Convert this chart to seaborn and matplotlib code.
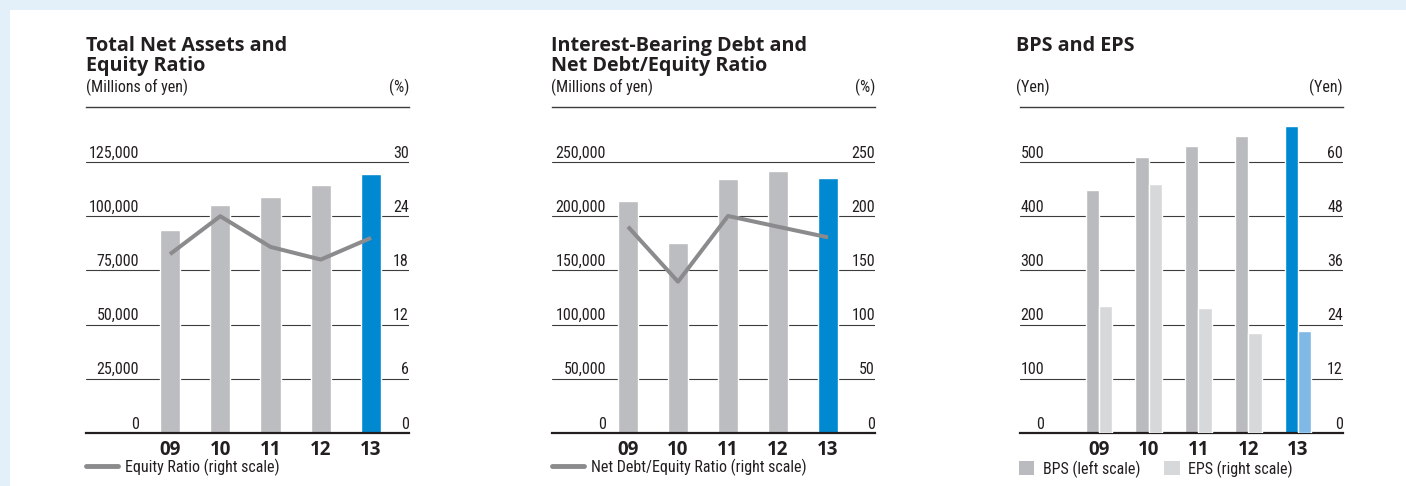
import numpy as np
import pandas as pd
import matplotlib
matplotlib.use("Agg")
import matplotlib.pyplot as plt
import matplotlib.transforms as mtransforms
from matplotlib.lines import Line2D
from matplotlib.patches import Patch, Rectangle
import seaborn as sns

# ---- data -------------------------------------------------------------
years = ["09", "10", "11", "12", "13"]

net_assets = [93600, 105200, 109000, 114400, 119500]        # millions of yen
equity_ratio = [19.8, 24.0, 20.6, 19.2, 21.6]               # %

debt = [214000, 175000, 234000, 242000, 235500]             # millions of yen
net_de_ratio = [190.3, 139.6, 200.2, 190.3, 180.5]          # %

bps = [448, 510, 530, 548, 566]                             # yen
eps = [28.2, 55.2, 27.7, 22.2, 22.6]                        # yen

ticks_assets = [0, 25000, 50000, 75000, 100000, 125000]
ticks_equity = [0, 6, 12, 18, 24, 30]
ticks_debt = [0, 50000, 100000, 150000, 200000, 250000]
ticks_de = [0, 50, 100, 150, 200, 250]
ticks_bps = [0, 100, 200, 300, 400, 500]
ticks_eps = [0, 12, 24, 36, 48, 60]

# ---- style ------------------------------------------------------------
BG = "#e3eff9"
TXT = "#231f20"
GRID = "#3c3c3c"
GRAY = "#bcbdc0"
BLUE = "#0089d1"
LINE = "#8b8b8d"
BPS_C = "#babbbe"
EPS_C = "#d7d8da"
EPS_HI = "#80b9e5"

sns.set_theme(style="white")
plt.rcParams["font.family"] = ["Roboto Condensed", "Roboto", "DejaVu Sans"]
plt.rcParams["font.stretch"] = "condensed"
plt.rcParams["text.color"] = TXT

W, H = 1406, 486
fig = plt.figure(figsize=(W / 100, H / 100), dpi=100, facecolor=BG)
fig.patches.append(Rectangle((10 / W, 0), 1 - 10 / W, 1 - 10 / H,
                             transform=fig.transFigure, facecolor="white",
                             edgecolor="none", zorder=-10))

AX_TOP, AX_BOT, GRID_TOP = 107, 433, 162
AX_W = 323
SCALE = (AX_BOT - AX_TOP) / (AX_BOT - GRID_TOP)

TITLE_FONT = "Open Sans"
LABEL_SIZE = 11.5


def fx(px):
    return px / W


def fy(py):
    return 1 - py / H


def make_panel(left_px, lticks, rticks, lfmt, lab_x):
    ax = fig.add_axes([fx(left_px), fy(AX_BOT), AX_W / W, (AX_BOT - AX_TOP) / H])
    ax.set_facecolor("none")
    ax.set_ylim(0, lticks[-1] * SCALE)
    ax.set_yticks(lticks)
    ax.yaxis.grid(True, color=GRID, lw=0.8)
    ax.set_axisbelow(True)
    ax.tick_params(axis="y", length=0, labelleft=False, labelright=False)
    for s in ("left", "right"):
        ax.spines[s].set_visible(False)
    ax.spines["top"].set_color(GRID)
    ax.spines["top"].set_linewidth(1.0)
    ax.spines["bottom"].set_color(TXT)
    ax.spines["bottom"].set_linewidth(1.6)

    ax2 = ax.twinx()
    ax2.set_ylim(0, rticks[-1] * SCALE)
    ax2.set_yticks([])
    for s in ax2.spines.values():
        s.set_visible(False)

    trans = mtransforms.offset_copy(ax.get_yaxis_transform(), fig=fig, y=4.5, units="dots")
    for lv, rv in zip(lticks, rticks):
        ax.text(lab_x, lv, lfmt(lv), transform=trans, ha="right", va="baseline",
                fontsize=LABEL_SIZE, color=TXT, zorder=5)
        ax.text(1.0, lv, f"{rv:g}", transform=trans, ha="right", va="baseline",
                fontsize=LABEL_SIZE, color=TXT, zorder=5)
    return ax, ax2


def finish_x(ax, ax2, xlim):
    ax.set_xlim(*xlim)
    ax2.set_xlim(*xlim)
    ax.set_xlabel("")
    ax.set_ylabel("")
    ax2.set_xlabel("")
    ax2.set_ylabel("")
    ax2.tick_params(axis="x", bottom=False, labelbottom=False)
    ax.tick_params(axis="x", length=0, pad=5)
    for lab in ax.get_xticklabels():
        lab.set_fontfamily(TITLE_FONT)
        lab.set_fontstretch("normal")
        lab.set_fontweight("bold")
        lab.set_fontsize(13.5)
        lab.set_color(TXT)


def headings(left_px, right_px, lines, lunit, runit):
    for i, t in enumerate(lines):
        fig.text(fx(left_px), fy(51 + 20 * i), t, ha="left", va="baseline",
                 fontfamily=TITLE_FONT, fontstretch="normal", fontweight="bold",
                 fontsize=14.2, color=TXT)
    fig.text(fx(left_px), fy(92), lunit, ha="left", va="baseline",
             fontsize=LABEL_SIZE, color=TXT)
    fig.text(fx(right_px), fy(92), runit, ha="right", va="baseline",
             fontsize=LABEL_SIZE, color=TXT)


bar_colors = [GRAY] * (len(years) - 1) + [BLUE]
pos = np.arange(len(years))

# ---- panel 1: total net assets / equity ratio -------------------------
x1 = 86
ax, ax2 = make_panel(x1, ticks_assets, ticks_equity, lambda v: f"{v:,}", 53 / AX_W)
sns.barplot(x=years, y=net_assets, hue=years, palette=bar_colors, legend=False,
            width=0.4, saturation=1, edgecolor="white", linewidth=1, ax=ax)
sns.lineplot(x=pos, y=equity_ratio, color=LINE, lw=2.9, ax=ax2,
             solid_capstyle="butt")
finish_x(ax, ax2, (-1.672, 4.756))
headings(x1, x1 + AX_W, ["Total Net Assets and", "Equity Ratio"], "(Millions of yen)", "(%)")
ax.legend(handles=[Line2D([], [], color=LINE, lw=3.5)], labels=["Equity Ratio (right scale)"],
          loc="center left", bbox_to_anchor=(fx(x1), fy(467)), bbox_transform=fig.transFigure,
          frameon=False, fontsize=LABEL_SIZE, handlelength=2.0, handletextpad=0.45,
          borderpad=0, borderaxespad=0)

# ---- panel 2: interest-bearing debt / net D/E ratio -------------------
x2 = 552
ax, ax2 = make_panel(x2, ticks_debt, ticks_de, lambda v: f"{v:,}", 54 / AX_W)
sns.barplot(x=years, y=debt, hue=years, palette=bar_colors, legend=False,
            width=0.4, saturation=1, edgecolor="white", linewidth=1, ax=ax)
sns.lineplot(x=pos, y=net_de_ratio, color=LINE, lw=2.9, ax=ax2,
             solid_capstyle="butt")
finish_x(ax, ax2, (-1.52, 4.94))
headings(x2 - 1, x2 + AX_W, ["Interest-Bearing Debt and", "Net Debt/Equity Ratio"],
         "(Millions of yen)", "(%)")
ax.legend(handles=[Line2D([], [], color=LINE, lw=3.5)],
          labels=["Net Debt/Equity Ratio (right scale)"],
          loc="center left", bbox_to_anchor=(fx(x2), fy(467)), bbox_transform=fig.transFigure,
          frameon=False, fontsize=LABEL_SIZE, handlelength=2.0, handletextpad=0.45,
          borderpad=0, borderaxespad=0)

# ---- panel 3: BPS / EPS -----------------------------------------------
x3 = 1020
ax, ax2 = make_panel(x3, ticks_bps, ticks_eps, lambda v: f"{v}", 24 / AX_W)
series = ["BPS", "EPS"]
df_bps = pd.DataFrame({"year": years, "value": bps, "series": "BPS"})
df_eps = pd.DataFrame({"year": years, "value": eps, "series": "EPS"})
sns.barplot(data=df_bps, x="year", y="value", hue="series", hue_order=series,
            palette=[BPS_C, EPS_C], legend=False, width=0.54, dodge=True, saturation=1,
            edgecolor="white", linewidth=1, ax=ax)
sns.barplot(data=df_eps, x="year", y="value", hue="series", hue_order=series,
            palette=[BPS_C, EPS_C], legend=False, width=0.54, dodge=True, saturation=1,
            edgecolor="white", linewidth=1, ax=ax2)
# latest year highlighted in blue
for p in ax.patches:
    if p.get_x() + p.get_width() / 2 > len(years) - 1.5:
        p.set_facecolor(BLUE)
for p in ax2.patches:
    if p.get_x() + p.get_width() / 2 > len(years) - 1.5:
        p.set_facecolor(EPS_HI)
ax.set_xticks(pos)
ax.set_xticklabels(years)
finish_x(ax, ax2, (-1.588, 4.905))
headings(x3 - 4, x3 + AX_W, ["BPS and EPS"], "(Yen)", "(Yen)")
ax.legend(handles=[Patch(facecolor=BPS_C, edgecolor="none"),
                   Patch(facecolor=EPS_C, edgecolor="none")],
          labels=["BPS (left scale)", "EPS (right scale)"], ncol=2,
          loc="center left", bbox_to_anchor=(fx(x3 - 1), fy(469)), bbox_transform=fig.transFigure,
          frameon=False, fontsize=LABEL_SIZE, handlelength=0.95, handleheight=0.95,
          handletextpad=0.55, columnspacing=1.5, borderpad=0, borderaxespad=0)

fig.savefig("out.png", dpi=100, facecolor=BG)
